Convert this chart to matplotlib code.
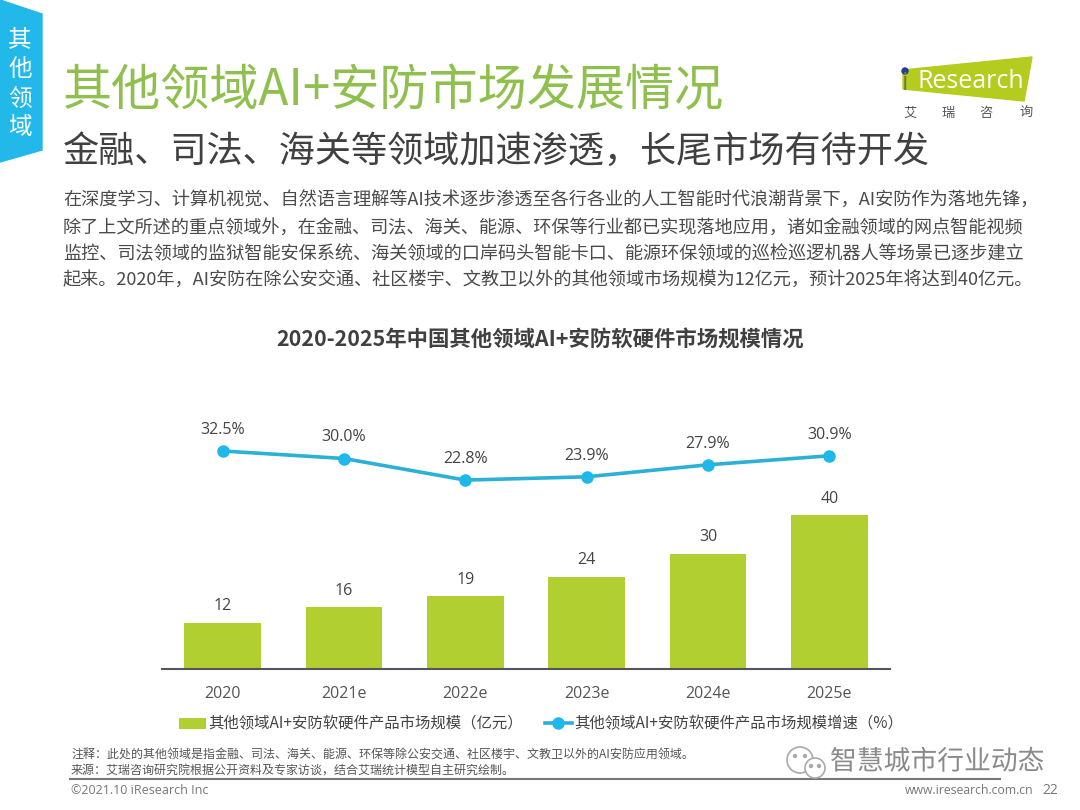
import matplotlib
matplotlib.use("Agg")
import matplotlib.pyplot as plt
from matplotlib.patches import Polygon, Circle
import matplotlib.patheffects as pe

plt.rcParams["font.family"] = ["Noto Sans CJK SC", "DejaVu Sans"]

years = ["2020", "2021e", "2022e", "2023e", "2024e", "2025e"]
scale = [12, 16, 19, 24, 30, 40]
growth = [32.5, 30.0, 22.8, 23.9, 27.9, 30.9]
growth_labels = ["32.5%", "30.0%", "22.8%", "23.9%", "27.9%", "30.9%"]

title = "其他领域AI+安防市场发展情况"
subtitle = "金融、司法、海关等领域加速渗透，长尾市场有待开发"
body = [
    "在深度学习、计算机视觉、自然语言理解等AI技术逐步渗透至各行各业的人工智能时代浪潮背景下，AI安防作为落地先锋，",
    "除了上文所述的重点领域外，在金融、司法、海关、能源、环保等行业都已实现落地应用，诸如金融领域的网点智能视频",
    "监控、司法领域的监狱智能安保系统、海关领域的口岸码头智能卡口、能源环保领域的巡检巡逻机器人等场景已逐步建立",
    "起来。2020年，AI安防在除公安交通、社区楼宇、文教卫以外的其他领域市场规模为12亿元，预计2025年将达到40亿元。",
]
chart_title = "2020-2025年中国其他领域AI+安防软硬件市场规模情况"
bar_name = "其他领域AI+安防软硬件产品市场规模（亿元）"
line_name = "其他领域AI+安防软硬件产品市场规模增速（%）"
note = "注释：此处的其他领域是指金融、司法、海关、能源、环保等除公安交通、社区楼宇、文教卫以外的AI安防应用领域。"
source = "来源：艾瑞咨询研究院根据公开资料及专家访谈，结合艾瑞统计模型自主研究绘制。"

GREEN = "#b2cf32"
BLUE = "#1fb8ea"
TEXT = "#404040"

W, H = 1080, 810
fig = plt.figure(figsize=(W / 100, H / 100), dpi=100)

# page furniture, in pixel coordinates
bg = fig.add_axes([0, 0, 1, 1])
bg.set_xlim(0, W)
bg.set_ylim(H, 0)
bg.axis("off")
bg.add_patch(Polygon([(0, 0), (42, 14), (42, 150), (0, 162)], color="#22b8ea"))
for i, ch in enumerate("其他领域"):
    bg.text(20, 41 + i * 29, ch, color="white", fontsize=17, ha="center", va="center")
bg.text(63, 91, title, color="#8fbf4d", fontsize=35.4, va="center")
bg.text(63, 152, subtitle, color=TEXT, fontsize=26, va="center")
for i, line in enumerate(body):
    bg.text(63, 201 + i * 26.4, line, color="#4a4a4a", fontsize=13.1, va="center")
bg.text(540, 340, chart_title, color=TEXT, fontsize=15.4, fontweight="bold", ha="center", va="center")

# logo
bg.add_patch(Polygon([(903, 70), (1032, 57), (1024, 101), (903, 89)], color="#b4cc1e"))
bg.add_patch(Circle((905, 71), 3, color="#24408e"))
bg.text(905, 83, "i", color="#6f7f3a", fontsize=18, family="Open Sans", ha="center", va="center")
bg.text(917, 82, "Research", color="white", fontsize=18, family="Open Sans", va="center")
for x, ch in zip([910, 948, 986, 1026], "艾瑞咨询"):
    bg.text(x, 113, ch, color="#555555", fontsize=9.5, ha="center", va="center")

# footer
bg.text(71, 755, note, color="#555555", fontsize=8.65, va="center")
bg.text(71, 770, source, color="#555555", fontsize=8.65, va="center")
bg.plot([70, 1000], [779, 779], color="#777777", lw=1.5)
bg.text(71, 791, "©2021.10 iResearch Inc", color="#777777", fontsize=9, family="Open Sans", va="center")
bg.text(1033, 791, "www.iresearch.com.cn", color="#777777", fontsize=8.8, family="Open Sans", ha="right", va="center")
bg.text(1058, 790, "22", color="#777777", fontsize=10, family="Open Sans", ha="right", va="center")

# watermark
halo = [pe.withStroke(linewidth=2.5, foreground="white")]
bg.add_patch(Circle((800, 760), 13, fc="white", ec="#aaaaaa", lw=1.2, zorder=4))
bg.add_patch(Circle((815, 768), 10, fc="white", ec="#aaaaaa", lw=1.2, zorder=4))
for x, y in [(795, 756), (805, 756), (811, 766), (819, 766)]:
    bg.add_patch(Circle((x, y), 1.5, color="#aaaaaa", zorder=5))
bg.text(830, 762, "智慧城市行业动态", color="#8a8a8a", fontsize=19.3, va="center", path_effects=halo, zorder=5)

# chart
ax = fig.add_axes([162 / W, 1 - 669 / H, 728 / W, 269 / H])
ax.patch.set_alpha(0)
positions = range(len(years))
bars = ax.bar(positions, scale, width=0.63, color=GREEN, label=bar_name)
ax.set_xlim(-0.5, 5.5)
ax.set_ylim(0, 269 / 3.85)
ax.set_xticks(list(positions), years)
ax.set_yticks([])
ax.tick_params(axis="x", length=0, pad=12, labelsize=11.5, labelcolor="#555555")
for lab in ax.get_xticklabels():
    lab.set_family("Open Sans")
for side in ["top", "left", "right"]:
    ax.spines[side].set_visible(False)
ax.spines["bottom"].set_color("#555560")
ax.spines["bottom"].set_linewidth(1.5)
ax.bar_label(bars, padding=6, fontsize=11.5, color="#444444", family="Open Sans")

ax2 = ax.twinx()
ax2.patch.set_alpha(0)
line, = ax2.plot(positions, growth, color="#2cb0d6", lw=2.6, marker="o", ms=8,
                 mfc=BLUE, mec=BLUE, label=line_name)
ax2.set_ylim(32.5 - 218 / 3, 32.5 + 51 / 3)
ax2.set_yticks([])
for side in ax2.spines:
    ax2.spines[side].set_visible(False)
for x, y, lab in zip(positions, growth, growth_labels):
    ax2.annotate(lab, (x, y), xytext=(0, 9.5), textcoords="offset points", ha="center",
                 va="bottom", fontsize=11.5, color="#444444", family="Open Sans")

fig.legend(handles=[bars, line], loc="center", bbox_to_anchor=(541 / W, 1 - 724 / H), ncol=2,
           frameon=False, fontsize=11.1, labelcolor="#444444", columnspacing=1.4,
           handlelength=1.75, handletextpad=0.15, borderpad=0)

fig.savefig("out.png", dpi=100)
